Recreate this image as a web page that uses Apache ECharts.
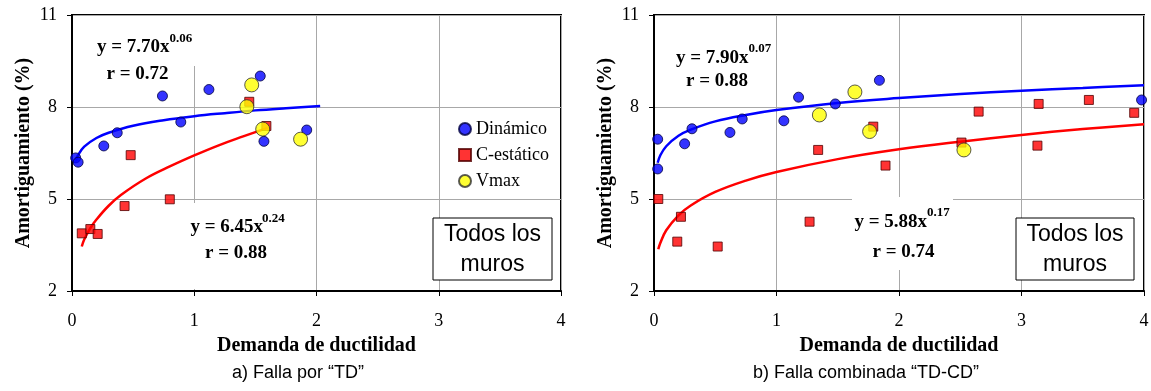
<!DOCTYPE html>
<html><head><meta charset="utf-8">
<script src="https://cdn.jsdelivr.net/npm/echarts@6/dist/echarts.min.js"></script>
<style>html,body{margin:0;padding:0;background:#fff}#c{width:1151px;height:391px}</style>
</head><body><div id="c"></div>
<script>
// ---------- data ----------
const xTicks = [0, 1, 2, 3, 4];
const yTicks = [2, 5, 8, 11];

// a) Falla por "TD"
const leftDinamico = [[0.03,6.34],[0.05,6.20],[0.26,6.73],[0.37,7.16],[0.74,8.36],[0.89,7.51],[1.12,8.57],[1.54,9.01],[1.57,6.88],[1.92,7.25]];
const leftCestatico = [[0.08,3.88],[0.15,4.02],[0.21,3.86],[0.43,4.77],[0.48,6.43],[0.80,4.99],[1.45,8.17],[1.59,7.38]];
const leftVmax = [[1.43,8.01],[1.47,8.72],[1.56,7.28],[1.87,6.95]];
const leftFitDin = [[0.03,6.26],[0.05,6.43],[0.1,6.71],[0.2,6.99],[0.3,7.16],[0.5,7.39],[0.75,7.57],[1.0,7.70],[1.25,7.80],[1.5,7.89],[1.75,7.96],[2.03,8.03]];
const leftFitCest = [[0.08,3.45],[0.1,3.68],[0.15,4.05],[0.2,4.33],[0.3,4.78],[0.4,5.13],[0.6,5.66],[0.8,6.06],[1.0,6.42],[1.2,6.75],[1.4,7.04],[1.6,7.32]];

// b) Falla combinada "TD-CD"
const rightDinamico = [[0.03,6.95],[0.03,5.98],[0.25,6.80],[0.31,7.29],[0.62,7.17],[0.72,7.61],[1.06,7.55],[1.18,8.32],[1.48,8.10],[1.84,8.87],[3.98,8.23]];
const rightCestatico = [[0.035,5.00],[0.19,3.61],[0.22,4.42],[0.52,3.45],[1.27,4.26],[1.34,6.60],[1.79,7.36],[1.89,6.09],[2.51,6.84],[2.65,7.85],[3.13,6.74],[3.14,8.10],[3.55,8.23],[3.92,7.81]];
const rightVmax = [[1.35,7.74],[1.64,8.49],[1.76,7.20],[2.53,6.60]];
const rightFitDin = [[0.03,6.18],[0.05,6.41],[0.1,6.72],[0.2,7.06],[0.3,7.26],[0.5,7.53],[0.75,7.74],[1,7.90],[1.5,8.13],[2,8.29],[2.5,8.42],[3,8.53],[3.5,8.62],[4,8.71]];
const rightFitCest = [[0.035,3.36],[0.05,3.55],[0.1,3.98],[0.2,4.47],[0.3,4.79],[0.5,5.23],[0.75,5.60],[1,5.88],[1.5,6.30],[2,6.62],[2.5,6.87],[3,7.09],[3.5,7.28],[4,7.44]];

const seriesNames = ['Dinámico', 'C-estático', 'Vmax'];
const eqLeft = { din: ['y = 7.70x', '0.06', 'r = 0.72'], cest: ['y = 6.45x', '0.24', 'r = 0.88'] };
const eqRight = { din: ['y = 7.90x', '0.07', 'r = 0.88'], cest: ['y = 5.88x', '0.17', 'r = 0.74'] };
const boxText = 'Todos los\nmuros';
const subtitles = ['a) Falla por “TD”', 'b) Falla combinada “TD-CD”'];
const xName = 'Demanda de ductilidad';
const yName = 'Amortiguamiento (%)';

// ---------- chart ----------
const SERIF = "'Liberation Serif','Times New Roman',serif";
const SANS = "'Liberation Sans',Arial,sans-serif";
const chart = echarts.init(document.getElementById('c'), null, { renderer: 'canvas' });

function xAxis(gi) {
  return {
    type: 'value', gridIndex: gi, min: xTicks[0], max: xTicks[xTicks.length - 1], interval: 1,
    name: xName, nameLocation: 'middle', nameGap: 45,
    nameTextStyle: { fontFamily: SERIF, fontWeight: 'bold', fontSize: 20, color: '#000' },
    axisLine: { show: true, onZero: false, lineStyle: { color: '#000', width: 2 } },
    axisTick: { show: true, inside: false, length: 5, lineStyle: { color: '#000', width: 1 } },
    axisLabel: { fontFamily: SERIF, fontSize: 18, color: '#000', margin: 21 },
    splitLine: { show: true, lineStyle: { color: '#a8a8a8', width: 1 } }
  };
}
function yAxis(gi) {
  return {
    type: 'value', gridIndex: gi, min: yTicks[0], max: yTicks[yTicks.length - 1], interval: 3,
    name: yName, nameLocation: 'middle', nameGap: 38, nameRotate: 90,
    nameTextStyle: { fontFamily: SERIF, fontWeight: 'bold', fontSize: 20, color: '#000' },
    axisLine: { show: true, onZero: false, lineStyle: { color: '#000', width: 2 } },
    axisTick: { show: true, inside: false, length: 5, lineStyle: { color: '#000', width: 1 } },
    axisLabel: { fontFamily: SERIF, fontSize: 18, color: '#000', margin: 15 },
    splitLine: { show: true, lineStyle: { color: '#a8a8a8', width: 1 } }
  };
}
const styleDin = { color: '#0000FF', borderColor: '#000040', borderWidth: 1 };
const styleCest = { color: '#FF0000', borderColor: '#500000', borderWidth: 1 };
const styleVmax = { color: '#FFFF00', borderColor: '#303030', borderWidth: 1 };

function fit(gi, data, color) {
  return { type: 'line', xAxisIndex: gi, yAxisIndex: gi, data, smooth: 0.4, symbol: 'none', showSymbol: false,
    lineStyle: { color, width: 2.5 }, silent: true, z: 2 };
}
function scat(gi, name, data, symbol, size, style) {
  return { type: 'scatter', name, xAxisIndex: gi, yAxisIndex: gi, data, symbol, symbolSize: size, itemStyle: style, z: 3 };
}

function txt(x, y, text, font, align) {
  return { type: 'text', x, y, z: 10, style: { text, font, fill: '#000', align: align || 'left', verticalAlign: 'middle' } };
}
function eq(arr, bx, by, sx, sy, rx, ry) {
  return [
    txt(bx, by, arr[0], `bold 19px ${SERIF}`),
    txt(sx, sy, arr[1], `bold 13px ${SERIF}`),
    txt(rx, ry, arr[2], `bold 19px ${SERIF}`)
  ];
}
function whiteRect(x, y, w, h) {
  return { type: 'rect', z: 1, shape: { x, y, width: w, height: h }, style: { fill: '#fff' } };
}
function box(x, y, w, h) {
  return [
    { type: 'rect', z: 8, shape: { x, y, width: w, height: h }, style: { fill: '#fff', stroke: '#000', lineWidth: 1 } },
    { type: 'text', z: 9, x: x + w / 2, y: y + h / 2 + 0.5, style: { text: boxText, font: `23px ${SANS}`, fill: '#000', align: 'center', verticalAlign: 'middle', lineHeight: 30 } }
  ];
}

const option = {
  animation: false,
  backgroundColor: '#fff',
  grid: [
    { left: 72, top: 15, width: 489, height: 276, show: true, borderColor: '#000', borderWidth: 2, outerBoundsMode: 'none' },
    { left: 654, top: 15, width: 490, height: 276, show: true, borderColor: '#000', borderWidth: 2, outerBoundsMode: 'none' }
  ],
  xAxis: [xAxis(0), xAxis(1)],
  yAxis: [yAxis(0), yAxis(1)],
  legend: {
    data: [{ name: seriesNames[0], icon: 'circle' }, { name: seriesNames[1], icon: 'rect' }, { name: seriesNames[2], icon: 'circle' }],
    orient: 'vertical', left: 453, top: 115, itemWidth: 12, itemHeight: 12, itemGap: 8,
    selectedMode: false, textStyle: { fontFamily: SERIF, fontSize: 18, color: '#000' }
  },
  series: [
    fit(0, leftFitDin, '#0000FF'), fit(0, leftFitCest, '#FF0000'),
    scat(0, seriesNames[1], leftCestatico, 'rect', 9, styleCest),
    scat(0, seriesNames[0], leftDinamico, 'circle', 10, styleDin),
    scat(0, seriesNames[2], leftVmax, 'circle', 14, styleVmax),
    fit(1, rightFitDin, '#0000FF'), fit(1, rightFitCest, '#FF0000'),
    scat(1, seriesNames[1], rightCestatico, 'rect', 9, styleCest),
    scat(1, seriesNames[0], rightDinamico, 'circle', 10, styleDin),
    scat(1, seriesNames[2], rightVmax, 'circle', 14, styleVmax)
  ],
  graphic: { elements: [
    whiteRect(150, 16, 48, 50),
    whiteRect(186, 203, 104, 86),
    whiteRect(852, 197, 101, 73),
    ...eq(eqLeft.din, 97, 47, 169.5, 38.5, 106.5, 74),
    ...eq(eqLeft.cest, 190.5, 227, 262, 219, 205, 252.6),
    ...eq(eqRight.din, 676, 58.5, 748.5, 49, 686, 81),
    ...eq(eqRight.cest, 854.5, 222.5, 927, 212.4, 872.5, 251.8),
    ...box(433, 218, 119, 62),
    ...box(1016, 218, 118, 62),
    txt(298, 373, subtitles[0], `18px ${SANS}`, 'center'),
    txt(866, 373, subtitles[1], `18px ${SANS}`, 'center')
  ] }
};
chart.setOption(option);
</script></body></html>
